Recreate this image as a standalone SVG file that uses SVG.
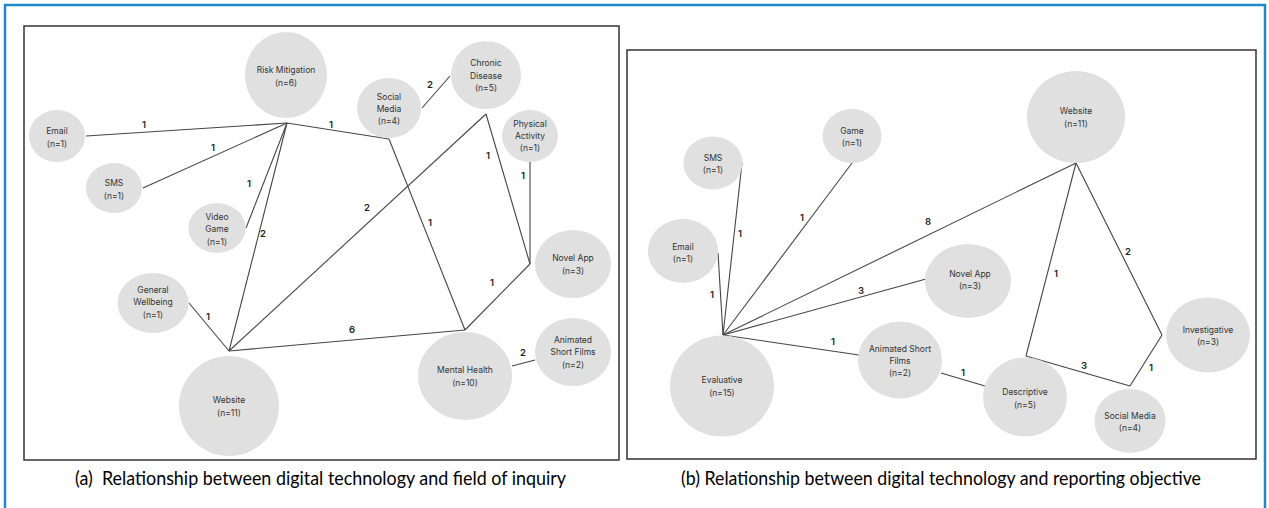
<svg xmlns="http://www.w3.org/2000/svg" width="1269" height="508" viewBox="0 0 1269 508">
<style>
.n{fill:#e0e0e0}
.t{font-family:Inter,"Liberation Sans",sans-serif;font-size:8.5px;fill:#333;text-anchor:middle}
.e{stroke:#444;stroke-width:1.1;fill:none}
.l{font-family:Inter,"Liberation Sans",sans-serif;font-size:9.5px;font-weight:600;fill:#222;text-anchor:middle}
.cap{font-family:Lato,"Open Sans","Liberation Sans",sans-serif;font-size:19px;fill:#000;white-space:pre}
.frame{fill:#fff;stroke:#333;stroke-width:1.5}
</style>
<rect x="0" y="0" width="1269" height="508" fill="#fff"/>
<rect x="5" y="5" width="1260" height="530" fill="none" stroke="#1f8ac9" stroke-width="2.5"/>
<rect class="frame" x="24" y="26" width="595" height="434"/>
<rect class="frame" x="627" y="50" width="629" height="409"/>
<g id="connectors">
<line class="e" x1="86" y1="136" x2="287" y2="123"/>
<line class="e" x1="143" y1="188" x2="287" y2="123"/>
<line class="e" x1="246" y1="228" x2="287" y2="123"/>
<line class="e" x1="287" y1="123" x2="229" y2="351"/>
<line class="e" x1="287" y1="123" x2="389" y2="139"/>
<line class="e" x1="422" y1="108" x2="450" y2="76"/>
<line class="e" x1="389" y1="139" x2="465" y2="330"/>
<line class="e" x1="486" y1="114" x2="229" y2="351"/>
<line class="e" x1="486" y1="114" x2="530" y2="264"/>
<line class="e" x1="530" y1="162" x2="530" y2="264"/>
<line class="e" x1="530" y1="264" x2="465" y2="330"/>
<line class="e" x1="229" y1="351" x2="465" y2="330"/>
<line class="e" x1="512" y1="366" x2="535" y2="360"/>
<line class="e" x1="189" y1="303" x2="229" y2="351"/>
<line class="e" x1="742" y1="163" x2="723" y2="335"/>
<line class="e" x1="718" y1="253" x2="723" y2="335"/>
<line class="e" x1="852" y1="163" x2="723" y2="335"/>
<line class="e" x1="723" y1="335" x2="1076" y2="163"/>
<line class="e" x1="723" y1="335" x2="926" y2="279"/>
<line class="e" x1="723" y1="335" x2="859" y2="355"/>
<line class="e" x1="941" y1="373" x2="985" y2="386"/>
<line class="e" x1="1076" y1="163" x2="1026" y2="356"/>
<line class="e" x1="1076" y1="163" x2="1162" y2="335"/>
<line class="e" x1="1026" y1="356" x2="1130" y2="386"/>
<line class="e" x1="1130" y1="386" x2="1162" y2="335"/>
<text class="l" x="144" y="128">1</text>
<text class="l" x="213" y="151">1</text>
<text class="l" x="249" y="187">1</text>
<text class="l" x="263" y="237">2</text>
<text class="l" x="331" y="128">1</text>
<text class="l" x="430" y="88">2</text>
<text class="l" x="430" y="226">1</text>
<text class="l" x="367" y="211">2</text>
<text class="l" x="488" y="159">1</text>
<text class="l" x="523" y="179">1</text>
<text class="l" x="492" y="286">1</text>
<text class="l" x="352" y="333">6</text>
<text class="l" x="523" y="356">2</text>
<text class="l" x="208" y="320">1</text>
<text class="l" x="740" y="237">1</text>
<text class="l" x="712" y="298">1</text>
<text class="l" x="802" y="221">1</text>
<text class="l" x="928" y="225">8</text>
<text class="l" x="861" y="294">3</text>
<text class="l" x="833" y="345">1</text>
<text class="l" x="963" y="376">1</text>
<text class="l" x="1056" y="277">1</text>
<text class="l" x="1128" y="255">2</text>
<text class="l" x="1084" y="369">3</text>
<text class="l" x="1151" y="371">1</text>
</g>
<g id="a-risk"><ellipse class="n" cx="286" cy="75" rx="41" ry="43"/><text class="t" x="286" y="73">Risk Mitigation</text><text class="t" x="286" y="86">(n=6)</text></g>
<g id="a-email"><ellipse class="n" cx="57" cy="136" rx="28" ry="26"/><text class="t" x="57" y="134">Email</text><text class="t" x="57" y="147">(n=1)</text></g>
<g id="a-sms"><ellipse class="n" cx="114" cy="188" rx="28" ry="25"/><text class="t" x="114" y="186">SMS</text><text class="t" x="114" y="199">(n=1)</text></g>
<g id="a-videogame"><ellipse class="n" cx="217" cy="228" rx="28.5" ry="25"/><text class="t" x="217" y="220">Video</text><text class="t" x="217" y="232">Game</text><text class="t" x="217" y="245">(n=1)</text></g>
<g id="a-social"><ellipse class="n" cx="389" cy="108" rx="32" ry="30"/><text class="t" x="389" y="100">Social</text><text class="t" x="389" y="112">Media</text><text class="t" x="389" y="124">(n=4)</text></g>
<g id="a-chronic"><ellipse class="n" cx="486" cy="75" rx="35" ry="34"/><text class="t" x="486" y="66">Chronic</text><text class="t" x="486" y="79">Disease</text><text class="t" x="486" y="91">(n=5)</text></g>
<g id="a-physical"><ellipse class="n" cx="530" cy="136" rx="28" ry="26"/><text class="t" x="530" y="127">Physical</text><text class="t" x="530" y="139">Activity</text><text class="t" x="530" y="151">(n=1)</text></g>
<g id="a-novelapp"><ellipse class="n" cx="573" cy="264" rx="38" ry="34"/><text class="t" x="573" y="261">Novel App</text><text class="t" x="573" y="274">(n=3)</text></g>
<g id="a-animated"><ellipse class="n" cx="573" cy="352" rx="38" ry="34"/><text class="t" x="573" y="343">Animated</text><text class="t" x="573" y="355">Short Films</text><text class="t" x="573" y="368">(n=2)</text></g>
<g id="a-mental"><ellipse class="n" cx="465" cy="376" rx="47" ry="44"/><text class="t" x="465" y="373">Mental Health</text><text class="t" x="465" y="386">(n=10)</text></g>
<g id="a-general"><ellipse class="n" cx="153" cy="303" rx="35.5" ry="30"/><text class="t" x="153" y="293">General</text><text class="t" x="153" y="305">Wellbeing</text><text class="t" x="153" y="318">(n=1)</text></g>
<g id="a-website"><ellipse class="n" cx="229" cy="406" rx="50" ry="50"/><text class="t" x="229" y="403">Website</text><text class="t" x="229" y="416">(n=11)</text></g>
<g id="b-sms"><ellipse class="n" cx="713" cy="163" rx="29.5" ry="26.5"/><text class="t" x="713" y="161">SMS</text><text class="t" x="713" y="173">(n=1)</text></g>
<g id="b-game"><ellipse class="n" cx="852" cy="136" rx="29.5" ry="27"/><text class="t" x="852" y="134">Game</text><text class="t" x="852" y="146">(n=1)</text></g>
<g id="b-email"><ellipse class="n" cx="683" cy="251" rx="35" ry="32"/><text class="t" x="683" y="250">Email</text><text class="t" x="683" y="262">(n=1)</text></g>
<g id="b-website"><ellipse class="n" cx="1076" cy="117" rx="49" ry="46"/><text class="t" x="1076" y="114">Website</text><text class="t" x="1076" y="127">(n=11)</text></g>
<g id="b-novelapp"><ellipse class="n" cx="968" cy="281" rx="43" ry="37"/><text class="t" x="970" y="277">Novel App</text><text class="t" x="970" y="289">(n=3)</text></g>
<g id="b-animated"><ellipse class="n" cx="900" cy="360" rx="42" ry="38.5"/><text class="t" x="900" y="352">Animated Short</text><text class="t" x="900" y="364">Films</text><text class="t" x="900" y="376">(n=2)</text></g>
<g id="b-evaluative"><ellipse class="n" cx="722" cy="386" rx="52" ry="50.5"/><text class="t" x="722" y="383">Evaluative</text><text class="t" x="722" y="396">(n=15)</text></g>
<g id="b-descriptive"><ellipse class="n" cx="1025" cy="397" rx="42" ry="39.5"/><text class="t" x="1025" y="395">Descriptive</text><text class="t" x="1025" y="408">(n=5)</text></g>
<g id="b-social"><ellipse class="n" cx="1130" cy="421" rx="35.5" ry="32"/><text class="t" x="1130" y="419">Social Media</text><text class="t" x="1130" y="431">(n=4)</text></g>
<g id="b-investigative"><ellipse class="n" cx="1208" cy="335" rx="42" ry="37.5"/><text class="t" x="1208" y="333">Investigative</text><text class="t" x="1208" y="345">(n=3)</text></g>
<text class="cap" x="75" y="485" xml:space="preserve" textLength="491" lengthAdjust="spacingAndGlyphs">(a)  Relationship between digital technology and field of inquiry</text>
<text class="cap" x="681" y="485" textLength="520" lengthAdjust="spacingAndGlyphs">(b) Relationship between digital technology and reporting objective</text>
</svg>
